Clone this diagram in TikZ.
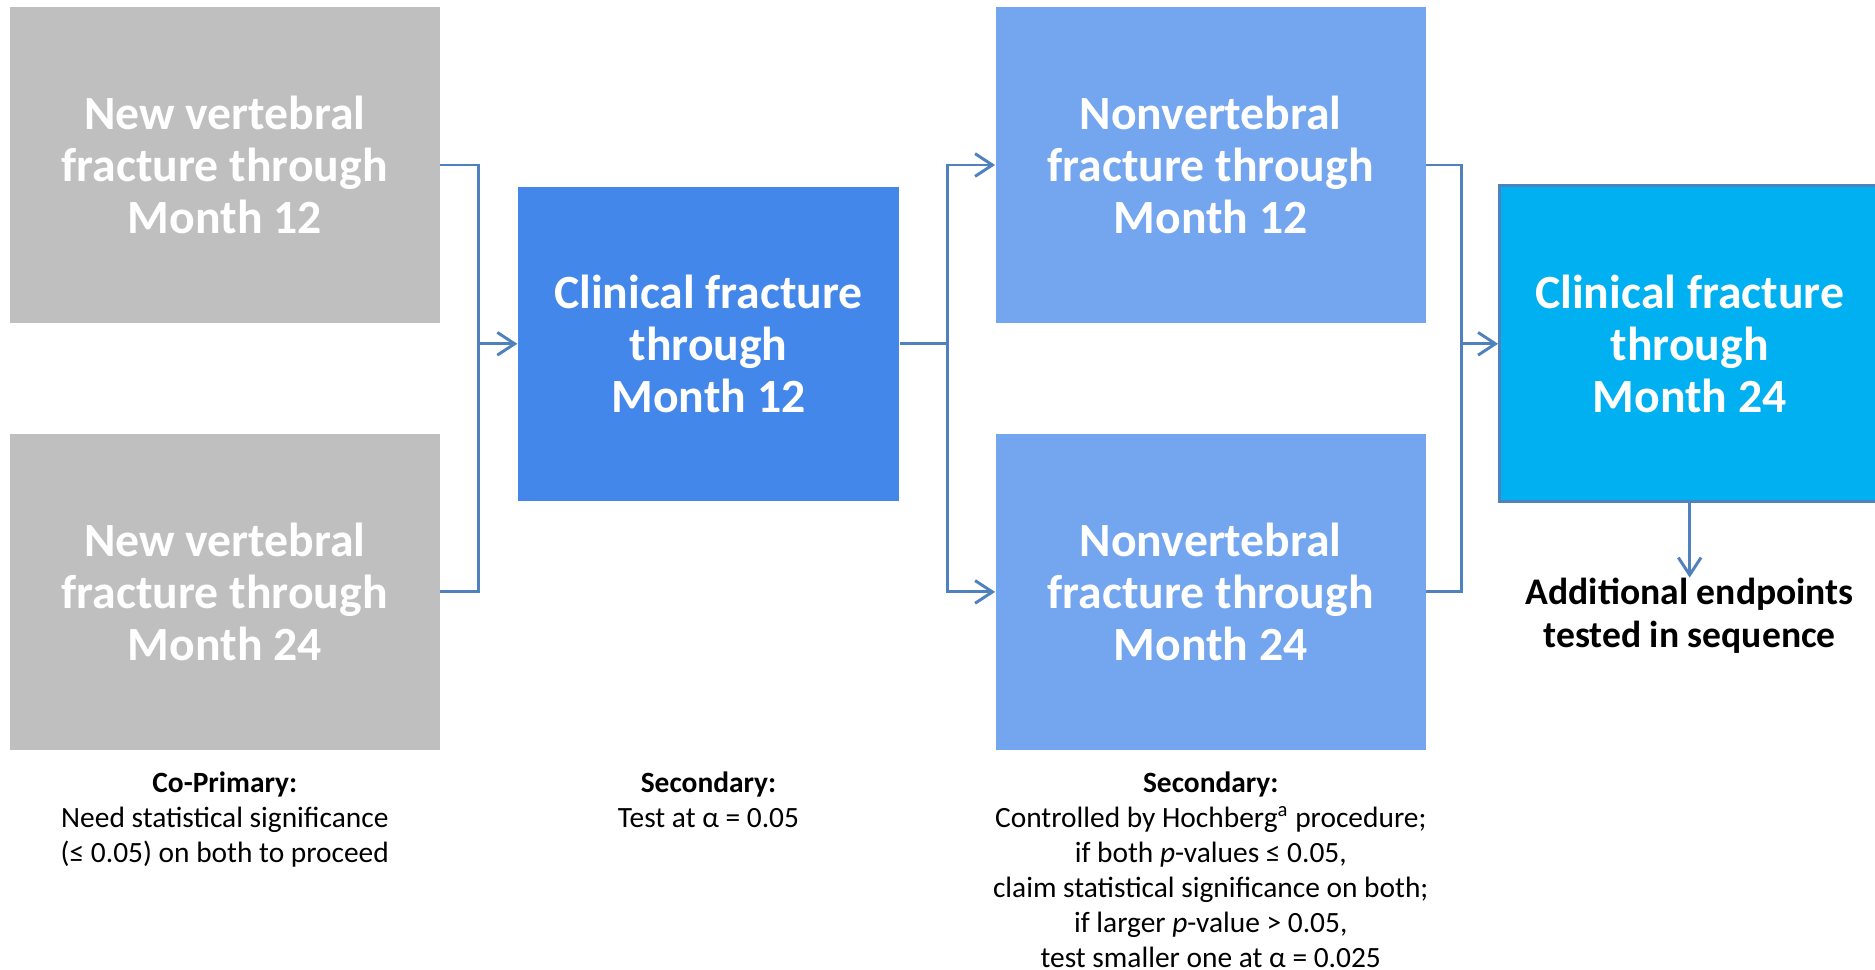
\documentclass[tikz,border=0pt]{standalone}
\usepackage{fontspec}
\setmainfont{Carlito}
\usepackage{xcolor}
\usepackage{tikz}
\usetikzlibrary{arrows.meta,positioning,calc}

\definecolor{greybox}{HTML}{BFBFBF}
\definecolor{midblue}{HTML}{4487EB}
\definecolor{lightblue}{HTML}{74A6F0}
\definecolor{skyblue}{HTML}{00B0F0}
\definecolor{linkblue}{HTML}{4F81BD}

\begin{document}
\begin{tikzpicture}[
		endpoint/.style={rectangle, inner sep=0pt, text=white, align=center, minimum width=7.2cm, minimum height=5.28cm, font=\fontsize{22.7}{24.6}\selectfont\bfseries},
		caption/.style={inner sep=0pt, anchor=north, align=center, font=\fontsize{14}{16.6}\selectfont},
		link/.style={draw=linkblue, line width=1.4pt},
		arr/.style={link, -{Straight Barb[length=2.9mm,width=3.8mm]}}
	]
		\useasboundingbox (0,0) rectangle (31.36,16.22);
		\clip (0,0) rectangle (31.36,16.22);

		\node[endpoint, fill=greybox] (vm12) at (3.76,13.46) {New vertebral\\fracture through\\Month 12};
		\node[endpoint, fill=greybox] (vm24) at (3.76,6.32) {New vertebral\\fracture through\\Month 24};
		\node[endpoint, fill=midblue, minimum width=6.38cm, minimum height=5.26cm] (cf12) at (11.85,10.47) {Clinical fracture\\through\\Month 12};
		\node[endpoint, fill=lightblue] (nv12) at (20.25,13.46) {Nonvertebral\\fracture through\\Month 12};
		\node[endpoint, fill=lightblue] (nv24) at (20.25,6.32) {Nonvertebral\\fracture through\\Month 24};
		\node[endpoint, fill=skyblue, draw=linkblue, line width=1.4pt, minimum width=6.36cm, minimum height=5.28cm] (cf24) at (28.26,10.47) {Clinical fracture\\through\\Month 24};
		\node[inner sep=0pt, anchor=north, align=center, font=\fontsize{17.9}{20.6}\selectfont\bfseries] (more) at (28.26,6.56) {Additional endpoints\\tested in sequence};

		\coordinate (j1) at (8.0,10.47);
		\coordinate (j2) at (15.84,10.47);
		\coordinate (j3) at (24.44,10.47);
		\draw[link] (vm12.east) -| (j1);
		\draw[link] (vm24.east) -| (j1);
		\draw[arr] (j1) -- (cf12.west);
		\draw[link] (cf12.east) -- (j2);
		\draw[arr] (j2) |- (nv12.west);
		\draw[arr] (j2) |- (nv24.west);
		\draw[link] (nv12.east) -| (j3);
		\draw[link] (nv24.east) -| (j3);
		\draw[arr] (j3) -- (cf24.west);
		\draw[arr] (cf24.south) -- (more.north);

		\node[caption] (cap1) at (3.76,3.31) {\textbf{Co-Primary:}\\Need statistical significance\\(≤ 0.05) on both to proceed};
		\node[caption] (cap2) at (11.85,3.31) {\textbf{Secondary:}\\Test at α = 0.05};
		\node[caption] (cap3) at (20.25,3.31) {\textbf{Secondary:}\\Controlled by Hochberg\textsuperscript{a} procedure;\\if both \textit{p}-values ≤ 0.05,\\claim statistical significance on both;\\if larger \textit{p}-value > 0.05,\\test smaller one at α = 0.025};
	\end{tikzpicture}
\end{document}
